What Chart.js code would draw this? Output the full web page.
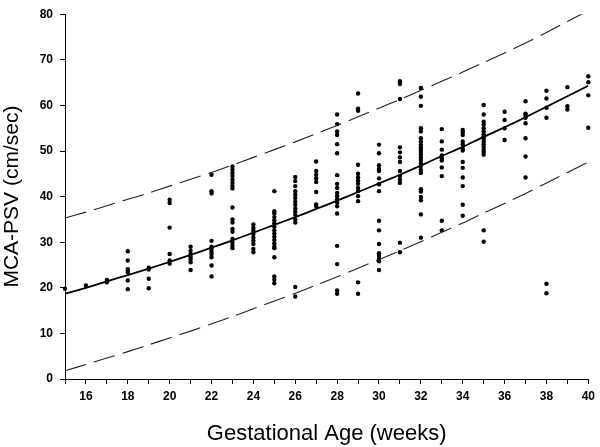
<!DOCTYPE html>
<html>
<head>
<meta charset="utf-8">
<script src="https://cdn.jsdelivr.net/npm/chart.js@4.4.1/dist/chart.umd.min.js"></script>
<style>
    body { margin: 0; background: #fff; }
    #wrap { width: 600px; height: 447px; }
</style>
</head>
<body>
<div id="wrap"><canvas id="mca-chart" width="600" height="447"></canvas></div>
<script>
// Gestational weeks (x axis)
const weeks = [15, 16, 17, 18, 19, 20, 21, 22, 23, 24, 25, 26, 27, 28, 29, 30, 31, 32, 33, 34, 35, 36, 37, 38, 39, 40];

// Measured MCA-PSV (cm/sec), one list per week
const psvByWeek = [
    [19.8],
    [20.5],
    [21.7, 21.2],
    [28.0, 26.0, 24.1, 23.8, 23.4, 21.6, 19.7],
    [24.4, 24.0, 22.0, 19.9],
    [39.3, 38.6, 33.2, 27.4, 26.0, 25.3],
    [29.0, 28.1, 27.4, 26.8, 26.3, 25.6, 23.9],
    [44.8, 41.2, 40.7, 30.3, 29.0, 28.5, 27.9, 27.4, 26.7, 24.9, 22.5],
    [46.6, 45.9, 45.2, 44.5, 43.7, 43.0, 42.3, 41.8, 37.6, 35.0, 34.3, 32.9, 32.3, 30.7, 29.9, 29.2, 28.7],
    [33.9, 33.1, 32.5, 31.8, 31.0, 30.3, 29.6, 28.5, 27.8],
    [41.2, 36.8, 36.3, 35.5, 34.8, 34.1, 33.4, 32.6, 31.9, 31.2, 30.5, 29.7, 29.0, 28.7, 26.7, 22.5, 21.8, 21.0],
    [44.3, 43.4, 42.3, 41.2, 40.4, 39.7, 38.9, 38.2, 37.4, 36.7, 36.0, 35.0, 34.3, 20.2, 18.1],
    [47.7, 45.6, 44.8, 44.0, 43.2, 41.0, 38.3, 37.9],
    [58.0, 55.9, 54.3, 53.5, 51.5, 49.5, 44.7, 42.8, 41.9, 40.8, 40.1, 39.4, 38.7, 37.9, 36.3, 29.2, 25.2, 19.4, 18.7],
    [62.6, 59.3, 58.8, 47.0, 45.0, 44.2, 43.5, 42.8, 41.9, 41.2, 40.1, 39.0, 21.2, 18.7],
    [51.4, 49.5, 46.9, 46.1, 45.6, 44.0, 42.7, 41.2, 34.7, 32.6, 29.6, 27.6, 27.0, 26.3, 25.8, 23.9],
    [65.3, 64.7, 61.4, 50.8, 49.7, 48.6, 47.6, 45.6, 44.5, 43.7, 43.0, 29.9, 27.8],
    [63.8, 61.9, 59.9, 55.0, 54.3, 52.8, 52.1, 51.4, 50.8, 50.3, 49.8, 49.2, 48.6, 48.0, 47.4, 46.7, 45.9, 45.2, 41.6, 41.1, 39.9, 39.2, 36.1, 31.0],
    [54.8, 52.1, 50.3, 49.0, 48.4, 47.9, 46.4, 44.5, 34.7, 32.6],
    [54.6, 54.1, 53.5, 52.1, 51.5, 50.5, 50.1, 47.6, 46.3, 44.2, 42.3, 38.2, 35.8],
    [60.1, 58.0, 56.4, 55.8, 55.0, 54.3, 53.7, 53.2, 52.7, 52.1, 51.5, 50.9, 50.3, 49.8, 49.2, 32.6, 30.1],
    [58.6, 56.8, 55.0, 52.4],
    [60.9, 58.2, 57.9, 57.3, 56.1, 52.8, 48.8, 44.2],
    [63.2, 61.5, 59.5, 57.3, 20.9, 18.8],
    [64.0, 59.8, 59.1],
    [66.4, 65.1, 62.2, 55.1]
];

// Fitted curve and its upper / lower limits, read at each week
const fitMean  = [18.7, 20.0, 21.4, 22.8, 24.2, 25.7, 27.2, 28.8, 30.4, 32.1, 33.8, 35.5, 37.3, 39.1, 41.0, 42.9, 44.8, 46.8, 48.9, 50.9, 53.1, 55.2, 57.4, 59.7, 62.0, 64.3];
const fitUpper = [35.3, 36.6, 38.0, 39.4, 40.8, 42.3, 43.8, 45.3, 46.9, 48.6, 50.3, 52.0, 53.8, 55.6, 57.5, 59.4, 61.3, 63.3, 65.3, 67.3, 69.4, 71.5, 73.7, 76.0, 78.4, 80.8];
const fitLower = [1.8, 3.2, 4.6, 6.0, 7.5, 9.0, 10.5, 12.1, 13.7, 15.4, 17.1, 18.8, 20.6, 22.4, 24.3, 26.2, 28.1, 30.1, 32.2, 34.2, 36.4, 38.5, 40.7, 43.0, 45.3, 47.6];

const FONT = "'Liberation Sans', Arial, sans-serif";

// Build point lists for the library
let obsPoints = [];
weeks.forEach((w, i) => {
    psvByWeek[i].forEach(v => obsPoints.push({ x: w, y: v }));
});
const curve = (vals) => weeks.map((w, i) => ({ x: w, y: vals[i] }));

const canvas = document.getElementById("mca-chart");

let mcaChart = new Chart(canvas, {
    type: 'scatter',
    data: {
        datasets: [
            {
                label: 'Upper',
                type: 'line',
                data: curve(fitUpper),
                borderColor: '#222',
                borderWidth: 1.1,
                borderDash: [22, 8],
                pointRadius: 0,
                fill: false,
                tension: 0.3
            },
            {
                label: 'Lower',
                type: 'line',
                data: curve(fitLower),
                borderColor: '#222',
                borderWidth: 1.1,
                borderDash: [22, 8],
                pointRadius: 0,
                fill: false,
                tension: 0.3
            },
            {
                label: 'Mean',
                type: 'line',
                data: curve(fitMean),
                borderColor: '#000',
                borderWidth: 1.8,
                pointRadius: 0,
                fill: false,
                tension: 0.3
            },
            {
                label: 'MCA-PSV',
                data: obsPoints,
                backgroundColor: '#000',
                borderColor: '#000',
                pointRadius: 2.2,
                borderWidth: 0,
                clip: false
            }
        ]
    },
    options: {
        responsive: false,
        animation: false,
        layout: {
            padding: { top: 12, right: 10, bottom: 0, left: 0 }
        },
        plugins: {
            legend: { display: false },
            tooltip: { enabled: false }
        },
        scales: {
            x: {
                type: 'linear',
                min: 15,
                max: 40,
                afterFit: (scale) => { scale.height = 68; },
                border: { display: true, color: '#000', width: 1 },
                grid: {
                    drawOnChartArea: false,
                    drawTicks: true,
                    tickLength: 5,
                    color: '#000'
                },
                ticks: {
                    stepSize: 1,
                    autoSkip: false,
                    maxRotation: 0,
                    padding: 5,
                    color: '#000',
                    font: { family: FONT, size: 12, weight: 'bold' },
                    callback: (v) => (v % 2 === 0 ? v : '')
                },
                title: {
                    display: true,
                    text: 'Gestational Age (weeks)',
                    color: '#000',
                    padding: 0,
                    font: { family: FONT, size: 22 }
                }
            },
            y: {
                min: 0,
                max: 80,
                afterFit: (scale) => { scale.width = 65; },
                border: { display: true, color: '#000', width: 1 },
                grid: {
                    drawOnChartArea: false,
                    drawTicks: true,
                    tickLength: 5,
                    color: '#000'
                },
                ticks: {
                    stepSize: 10,
                    padding: 7,
                    color: '#000',
                    font: { family: FONT, size: 12, weight: 'bold' }
                },
                title: {
                    display: true,
                    text: 'MCA-PSV (cm/sec)',
                    color: '#000',
                    padding: 0,
                    font: { family: FONT, size: 21 }
                }
            }
        }
    }
});
</script>
</body>
</html>
